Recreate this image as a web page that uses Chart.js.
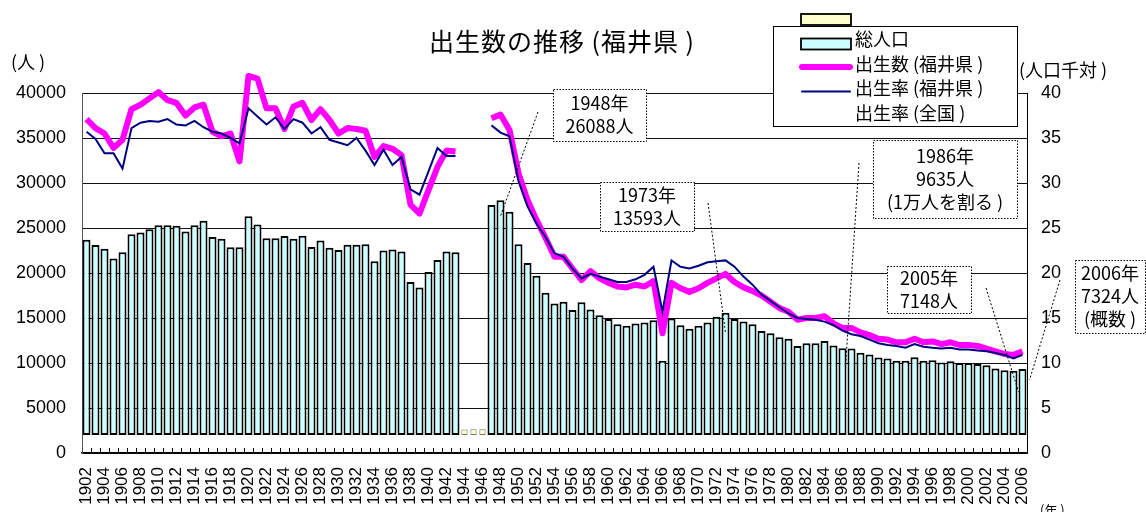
<!DOCTYPE html>
<html>
<head>
<meta charset="utf-8">
<script src="https://cdn.jsdelivr.net/npm/chart.js@4.4.0/dist/chart.umd.min.js"></script>
<style>
  html, body { margin: 0; padding: 0; background: #fff; }
</style>
</head>
<body>
<canvas id="c" width="1146" height="512"></canvas>
<script>
// categories: 1902 .. 2006
var years = [];
for (var yr = 1902; yr <= 2006; yr++) years.push(String(yr));

// births (bars), 1944-1946 missing
var births = [
  21700, 21100, 20700, 19600, 20300, 22300, 22500, 22850, 23300, 23300,   // 1902-1911
  23250, 22600, 23300, 23800, 22000, 21800, 20850, 20850, 24300, 23400,   // 1912-1921
  21850, 21850, 22100, 21800, 22150, 20900, 21600, 20800, 20550, 21150,   // 1922-1931
  21150, 21200, 19300, 20500, 20600, 20400, 17000, 16400, 18100, 19450,   // 1932-1941
  20400, 20300, null, null, null, 25550, 26088, 24800, 21200, 19100,      // 1942-1951
  17700, 15800, 14600, 14800, 13900, 14750, 13950, 13300, 12900, 12300,   // 1952-1961
  12150, 12400, 12500, 12750, 8250, 12950, 12200, 11800, 12150, 12500,    // 1962-1971
  13150, 13593, 12900, 12600, 12300, 11550, 11300, 10850, 10700, 9900,    // 1972-1981
  10200, 10200, 10450, 9950, 9635, 9600, 9150, 8950, 8600, 8500,          // 1982-1991
  8250, 8250, 8650, 8250, 8300, 8050, 8200, 8000, 8000, 7900,             // 1992-2001
  7750, 7400, 7200, 7148, 7324                                            // 2002-2006
];

// the small yellow bars in the war gap
var gapYears = ['1944', '1945', '1946'];
var gapValues = [600, 650, 650];

// thick magenta line (right axis)
var linePink = [
  37.1, 36.1, 35.5, 33.9, 34.8, 38.2, 38.7, 39.4, 40.1, 39.2,
  38.9, 37.5, 38.4, 38.7, 35.7, 35.2, 35.5, 32.4, 41.9, 41.6,
  38.3, 38.3, 36.0, 38.5, 38.9, 37.0, 38.2, 37.0, 35.5, 36.1,
  36.0, 35.8, 32.9, 34.1, 33.8, 33.1, 27.6, 26.6, 29.2, 31.8,
  33.6, 33.5, null, null, null, 37.2, 37.6, 35.9, 31.1, 28.1,
  25.9, 23.9, 21.8, 21.8, 20.5, 19.2, 20.2, 19.4, 18.9, 18.5,
  18.4, 18.7, 18.5, 19.1, 13.3, 18.9, 18.3, 17.9, 18.3, 18.9,
  19.4, 19.9, 19.0, 18.4, 18.0, 17.5, 16.8, 16.1, 15.7, 14.8,
  15.0, 15.0, 15.2, 14.4, 13.9, 13.9, 13.4, 13.1, 12.7, 12.6,
  12.3, 12.3, 12.7, 12.3, 12.4, 12.1, 12.3, 12.0, 12.0, 11.9,
  11.6, 11.3, 11.0, 10.9, 11.3
];

// thin navy line (right axis)
var lineNavy = [
  35.7, 34.9, 33.3, 33.3, 31.6, 36.1, 36.7, 36.9, 36.8, 37.1,
  36.5, 36.4, 36.9, 36.2, 35.7, 35.5, 35.0, 34.4, 38.3, 37.4,
  36.5, 37.3, 36.0, 37.1, 36.7, 35.5, 36.2, 34.8, 34.5, 34.2,
  35.0, 33.6, 32.0, 33.7, 32.0, 32.9, 29.3, 28.7, 31.3, 33.9,
  33.0, 33.0, null, null, null, 36.4, 35.6, 35.2, 30.2, 27.4,
  25.5, 24.0, 22.2, 21.8, 20.5, 19.4, 19.9, 19.6, 19.3, 19.0,
  19.0, 19.3, 19.8, 20.7, 15.7, 21.4, 20.7, 20.5, 20.8, 21.2,
  21.3, 21.4, 20.7, 19.6, 18.7, 17.6, 16.9, 16.2, 15.5, 15.0,
  14.9, 14.8, 14.6, 14.2, 13.6, 13.2, 13.0, 12.6, 12.2, 12.0,
  11.9, 11.7, 12.1, 11.8, 11.7, 11.6, 11.7, 11.5, 11.5, 11.4,
  11.3, 11.1, 10.9, 10.5, 10.9
];

var leftTicks = [0, 40000, 5000];
var rightTicks = [0, 40, 5];

var NUM = '"Liberation Sans", Arial, "Noto Sans CJK JP", sans-serif';
var JP = '"Noto Sans CJK JP", "Liberation Sans", sans-serif';

// call-out boxes: year, extra line, box [x, y, w, h], leader start, offset of leader end from bar top
var notes = [
  { year: '1948', extra: null, box: [553, 89, 93, 52], from: [538, 112], dx: 0, dy: 16 },
  { year: '1973', extra: null, box: [600, 182, 94, 49], from: [708, 203], dx: 0, dy: 20 },
  { year: '1986', extra: '(1万人を割る )', box: [873, 140, 144, 78], from: [859, 163], dx: 3, dy: 18 },
  { year: '2005', extra: null, box: [887, 266, 84, 47], from: [986, 288], dx: 5, dy: 21 },
  { year: '2006', extra: '(概数 )', box: [1075, 260, 70, 73], from: [1060, 280], dx: 7, dy: 11 }
];

var extras = {
  id: 'extras',
  afterDraw: function (chart) {
    var ctx = chart.ctx, xs = chart.scales.x, yb = chart.scales.yb, area = chart.chartArea;
    ctx.save();

    // small inward ticks at category boundaries
    ctx.strokeStyle = '#000';
    ctx.lineWidth = 1;
    ctx.beginPath();
    for (var k = 1; k < years.length; k++) {
      var px = Math.round(xs.getPixelForValue(k - 0.5)) + 0.5;
      ctx.moveTo(px, area.bottom);
      ctx.lineTo(px, area.bottom - 5);
    }
    ctx.stroke();

    // title and axis captions
    ctx.fillStyle = '#000';
    ctx.textBaseline = 'middle';
    ctx.textAlign = 'center';
    ctx.font = '25px ' + JP;
    ctx.letterSpacing = '1px';
    ctx.fillText('出生数の推移 (福井県 )', 562, 41);
    ctx.letterSpacing = '0px';
    ctx.textAlign = 'left';
    ctx.font = '18px ' + JP;
    ctx.fillText('(人 )', 11, 62);
    ctx.fillText('(人口千対 )', 1019, 70);
    ctx.font = '13px ' + JP;
    ctx.fillText('(年 )', 1040, 510);

    // call-outs
    notes.forEach(function (n) {
      var idx = years.indexOf(n.year);
      var ex = xs.getPixelForValue(idx) + n.dx;
      var ey = yb.getPixelForValue(births[idx]) + n.dy;
      ctx.setLineDash([2, 2]);
      ctx.strokeStyle = '#000';
      ctx.lineWidth = 1;
      ctx.beginPath();
      ctx.moveTo(n.from[0], n.from[1]);
      ctx.lineTo(ex, ey);
      ctx.stroke();

      var b = n.box;
      ctx.setLineDash([]);
      ctx.fillStyle = '#fff';
      ctx.fillRect(b[0], b[1], b[2], b[3]);
      ctx.setLineDash([1.5, 1.5]);
      ctx.strokeRect(b[0] + 0.5, b[1] + 0.5, b[2], b[3]);
      ctx.setLineDash([]);

      var lines = [n.year + '年', births[idx] + '人'];
      if (n.extra) lines.push(n.extra);
      var top = b[1] + (b[3] - (lines.length - 1) * 23) / 2;
      ctx.fillStyle = '#000';
      ctx.textAlign = 'center';
      ctx.font = '18px ' + JP;
      lines.forEach(function (t, i) {
        ctx.fillText(t, b[0] + b[2] / 2, top + i * 23);
      });
    });

    // legend
    ctx.fillStyle = '#fff';
    ctx.fillRect(773, 26, 244, 100);
    ctx.strokeStyle = '#000';
    ctx.lineWidth = 1;
    ctx.strokeRect(773.5, 26.5, 244, 100);
    ctx.textAlign = 'left';
    ctx.font = '18px ' + JP;
    chart.data.datasets.forEach(function (ds, i) {
      var rowY = 15 + i * 24.5;
      if (ds.type === 'line') {
        if (ds.borderWidth > 0) {
          ctx.strokeStyle = ds.borderColor;
          ctx.lineWidth = ds.borderWidth;
          ctx.lineCap = 'round';
          ctx.beginPath();
          ctx.moveTo(802, rowY + 3);
          ctx.lineTo(850, rowY + 3);
          ctx.stroke();
          ctx.lineCap = 'butt';
        }
      } else {
        ctx.fillStyle = ds.backgroundColor;
        ctx.fillRect(801, rowY - 1, 50, 11);
        ctx.strokeStyle = '#000';
        ctx.lineWidth = 1.8;
        ctx.strokeRect(801, rowY - 1, 50, 11);
      }
      if (ds.label) {
        ctx.fillStyle = '#000';
        ctx.fillText(ds.label, 855, rowY);
      }
    });

    ctx.restore();
  }
};

new Chart(document.getElementById('c'), {
  type: 'bar',
  data: {
    labels: years,
    datasets: [
      {
        label: '',
        data: gapYears.map(function (y, i) { return { x: y, y: gapValues[i] }; }),
        yAxisID: 'yb',
        backgroundColor: '#FFFFCC',
        borderColor: '#777',
        borderWidth: 1,
        borderSkipped: false,
        barPercentage: 0.7,
        categoryPercentage: 1,
        stack: 'b',
        order: 3
      },
      {
        label: '総人口',
        data: births,
        yAxisID: 'yb',
        backgroundColor: '#CCFFFF',
        borderColor: '#000',
        borderWidth: 2,
        borderSkipped: false,
        barPercentage: 0.89,
        categoryPercentage: 1,
        stack: 'b',
        order: 2
      },
      {
        type: 'line',
        label: '出生数 (福井県 )',
        data: linePink,
        yAxisID: 'yR',
        borderColor: '#FF00FF',
        borderWidth: 6,
        borderJoinStyle: 'round',
        pointRadius: 0,
        tension: 0,
        clip: false,
        order: 1
      },
      {
        type: 'line',
        label: '出生率 (福井県 )',
        data: lineNavy,
        yAxisID: 'yR',
        borderColor: '#000080',
        borderWidth: 2,
        pointRadius: 0,
        tension: 0,
        clip: false,
        order: 0
      },
      {
        type: 'line',
        label: '出生率 (全国 )',
        data: [],
        yAxisID: 'yR',
        borderColor: '#000',
        borderWidth: 0,
        pointRadius: 0,
        order: 4
      }
    ]
  },
  options: {
    responsive: false,
    animation: false,
    devicePixelRatio: 1,
    layout: { autoPadding: false, padding: { top: 93, left: 0, right: 0, bottom: 0 } },
    plugins: {
      legend: { display: false },
      title: { display: false },
      tooltip: { enabled: false }
    },
    scales: {
      x: {
        grid: { display: false, drawTicks: false },
        border: { display: true, color: '#000', width: 1.5 },
        ticks: {
          autoSkip: false,
          minRotation: 90,
          maxRotation: 90,
          padding: 14,
          color: '#000',
          font: { family: NUM, size: 17 },
          callback: function (v, i) { return i % 2 === 0 ? years[i] : ''; }
        },
        afterFit: function (s) { s.height = 59; }
      },
      y: {
        position: 'left',
        min: leftTicks[0],
        max: leftTicks[1],
        ticks: {
          stepSize: leftTicks[2], padding: 16, color: '#000', font: { family: NUM, size: 18 },
          callback: function (v) { return String(v); }
        },
        grid: { color: '#111', lineWidth: 1, drawTicks: false },
        border: { color: '#555', width: 1 },
        afterFit: function (s) { s.width = 82; }
      },
      yR: {
        position: 'right',
        min: rightTicks[0],
        max: rightTicks[1],
        ticks: { stepSize: rightTicks[2], padding: 14, color: '#000', font: { family: NUM, size: 18 } },
        grid: { display: false, drawTicks: false },
        border: { color: '#000', width: 1 },
        afterFit: function (s) { s.width = 119; }
      },
      yb: {
        display: false,
        min: -2000,
        max: 38000
      }
    }
  },
  plugins: [extras]
});
</script>
</body>
</html>
